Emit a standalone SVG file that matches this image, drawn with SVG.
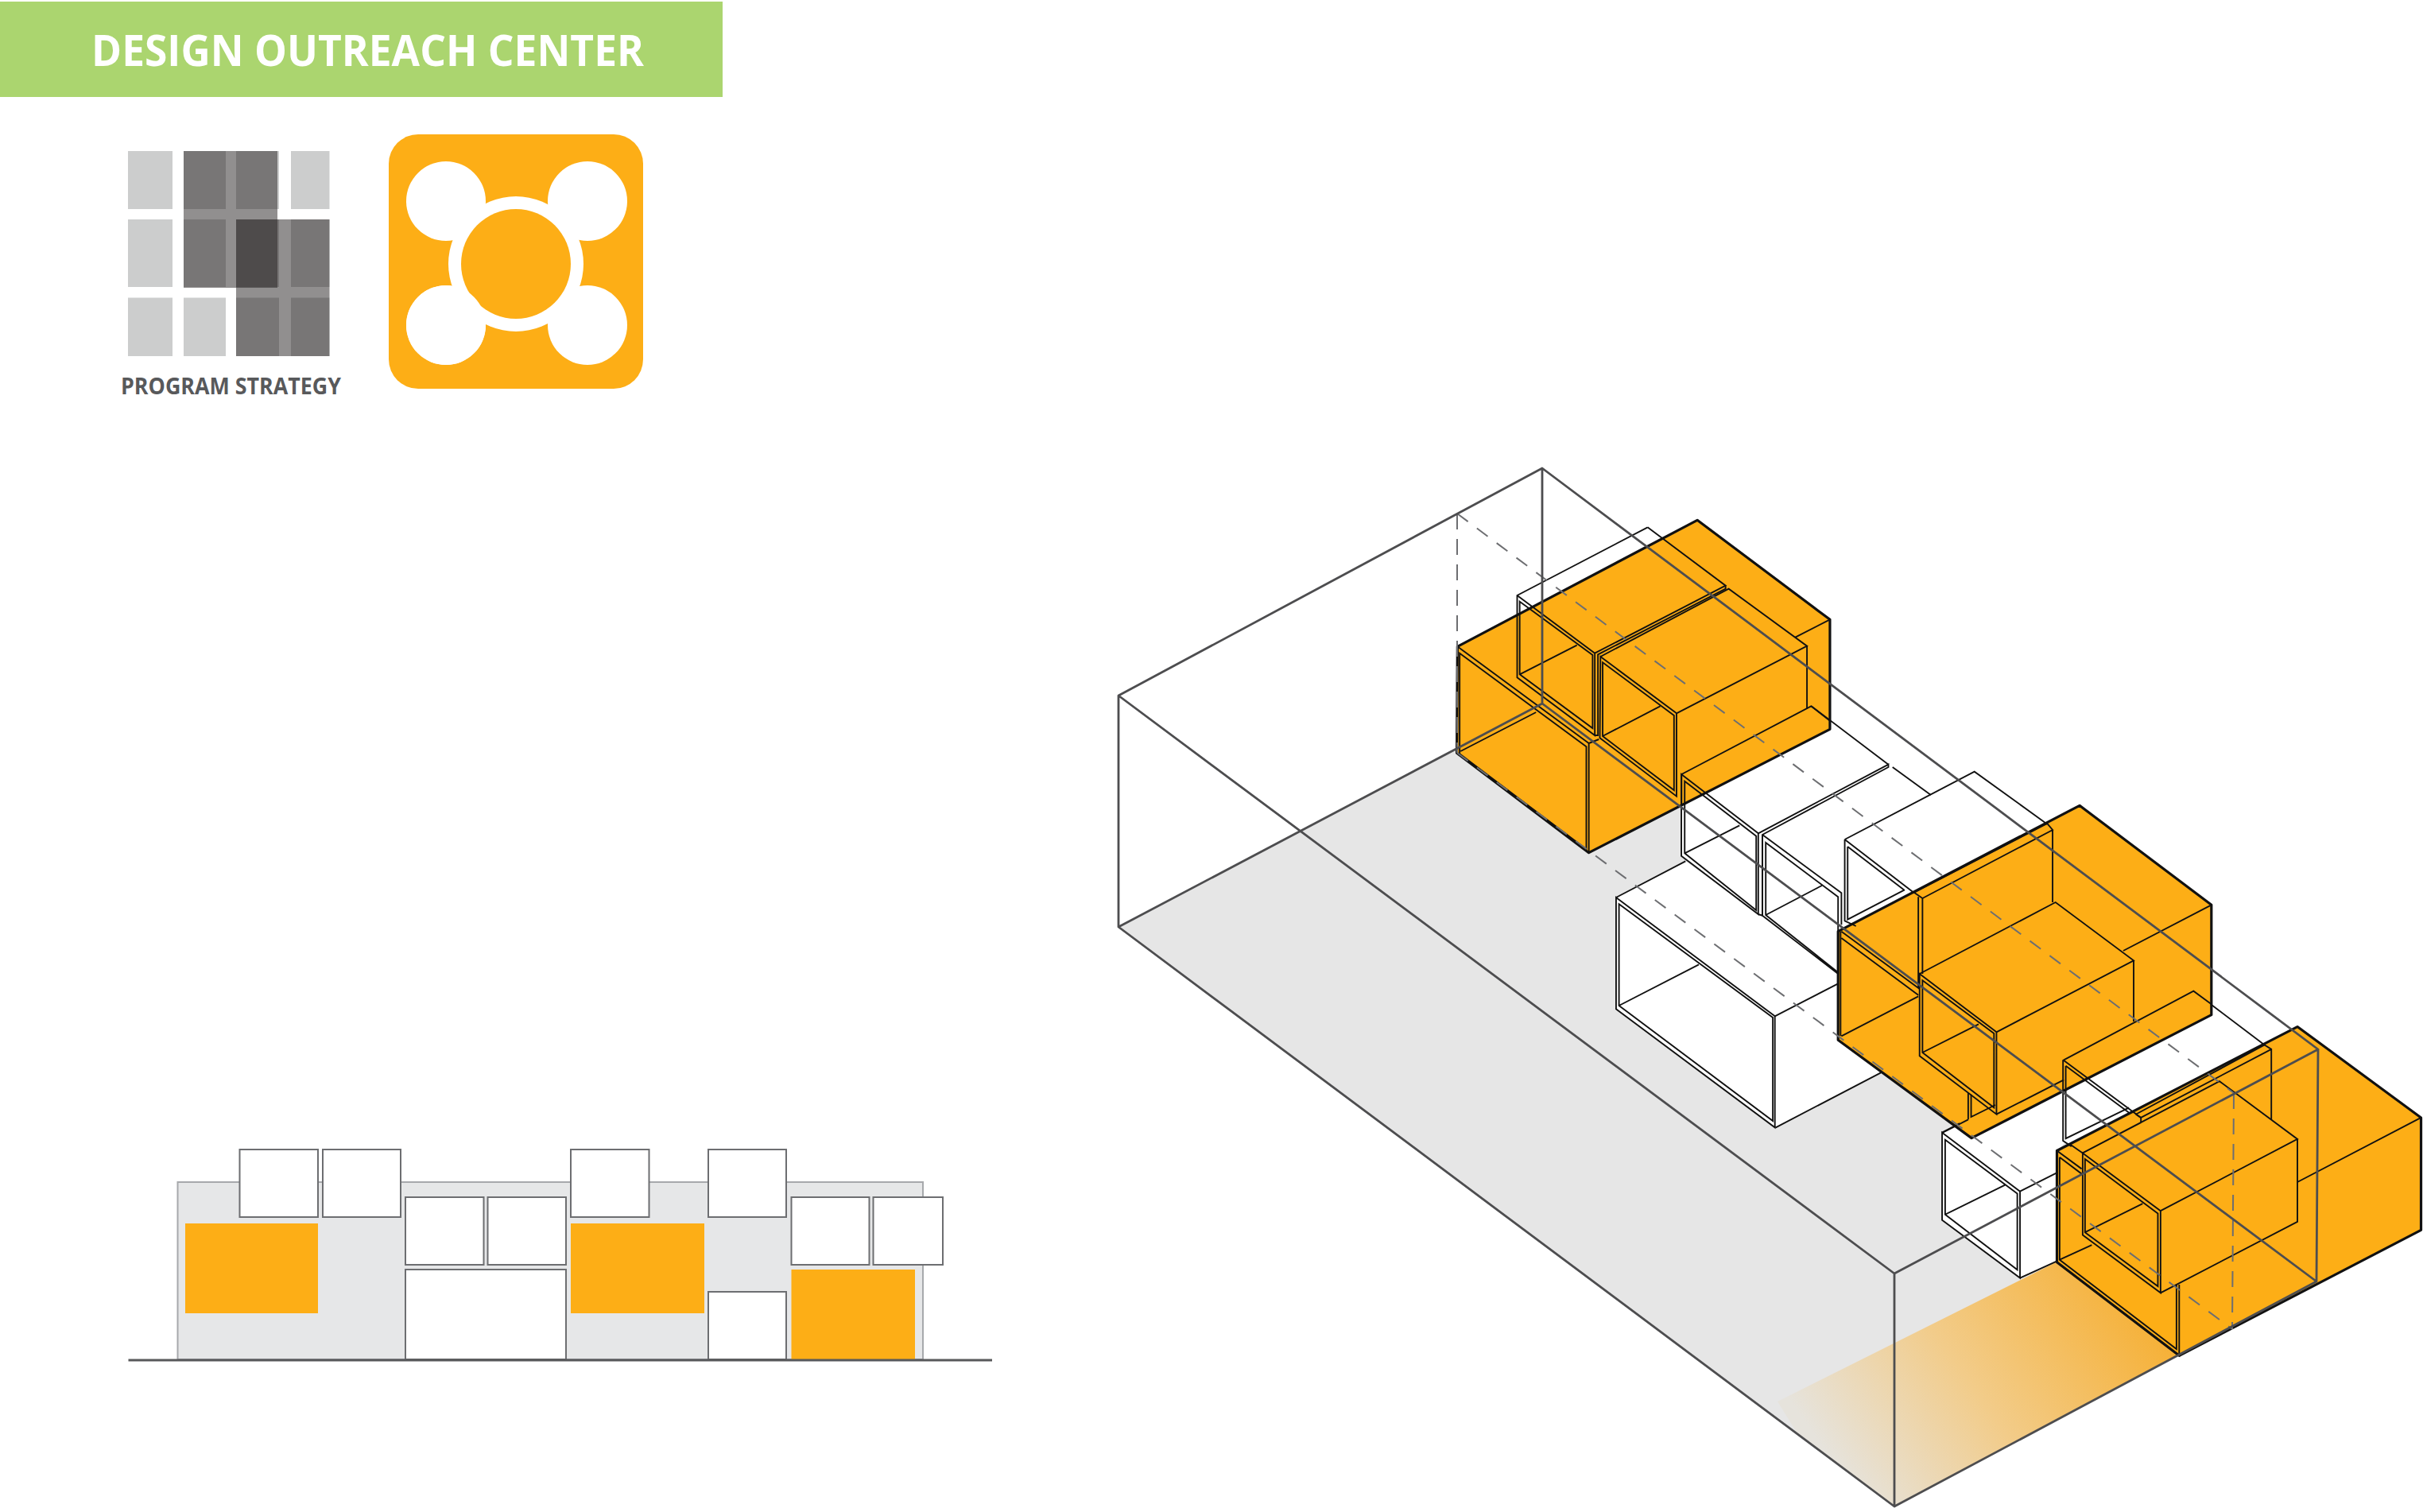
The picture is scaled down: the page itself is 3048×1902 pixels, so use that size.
<svg xmlns="http://www.w3.org/2000/svg" width="3048" height="1902" viewBox="0 0 3048 1902">
<style>
text{font-family:"Open Sans","Liberation Sans",sans-serif;font-weight:700}
.lt{fill:#cccdcd}
.ov{fill:#231f20;fill-opacity:.5}
.or{fill:#fdae16}
.w{fill:#fff}
.el{fill:#fff;stroke:#6d6e71;stroke-width:2}
.s,.l,.t{vector-effect:non-scaling-stroke}
.s{fill:#fdae16;stroke:#111;stroke-width:3.2;stroke-linejoin:round}
.wf{fill:#fff;stroke:none}
.l{fill:none;stroke:#111;stroke-width:1.9;stroke-linejoin:miter}
.f{fill:none;stroke:#4d4d4f;stroke-width:2.8;stroke-linejoin:round}
.d{fill:none;stroke:#6d6e71;stroke-width:2}
</style>
<defs>
<linearGradient id="fade" gradientUnits="userSpaceOnUse" x1="2680" y1="1610" x2="2320" y2="1860">
<stop offset="0" stop-color="#f6b035"/><stop offset=".55" stop-color="#f2cc8a"/><stop offset="1" stop-color="#e6e3dc"/>
</linearGradient>
</defs>

<g id="title"><rect x="0" y="2" width="909" height="120" fill="#abd56f"/>
<text x="115" y="83" font-size="53" fill="#fff" textLength="695" lengthAdjust="spacingAndGlyphs">DESIGN OUTREACH CENTER</text></g>

<g id="program-strategy">
<rect class="lt" x="161" y="190" width="56" height="73"/><rect class="lt" x="231" y="190" width="53" height="73"/><rect class="lt" x="297" y="190" width="54" height="73"/><rect class="lt" x="366" y="190" width="48.500" height="73"/>
<rect class="lt" x="161" y="276" width="56" height="85"/><rect class="lt" x="231" y="276" width="53" height="85"/><rect class="lt" x="297" y="276" width="54" height="85"/><rect class="lt" x="366" y="276" width="48.500" height="85"/>
<rect class="lt" x="161" y="374.500" width="56" height="73.500"/><rect class="lt" x="231" y="374.500" width="53" height="73.500"/><rect class="lt" x="297" y="374.500" width="54" height="73.500"/><rect class="lt" x="366" y="374.500" width="48.500" height="73.500"/>
<rect class="ov" x="231" y="190" width="118" height="172"/>
<rect class="ov" x="297" y="276" width="117.500" height="172"/>
<text x="152" y="496" font-size="28" fill="#58595b" textLength="277" lengthAdjust="spacingAndGlyphs">PROGRAM STRATEGY</text>
</g>

<g id="icon">
<rect class="or" x="489" y="169" width="320" height="320" rx="37"/>
<circle class="w" cx="561" cy="253" r="50"/><circle class="w" cx="739" cy="253" r="50"/><circle class="w" cx="739" cy="409" r="50"/><circle class="w" cx="561" cy="409" r="50"/>
<circle class="w" cx="649" cy="332" r="85"/>
<circle class="or" cx="649" cy="332" r="69"/>
<circle class="w" cx="561" cy="409" r="50"/>
</g>

<g id="elevation">
<rect x="223.500" y="1487" width="937.500" height="223" fill="#e6e7e8" stroke="#a7a9ac" stroke-width="2"/>
<rect class="or" x="233" y="1539" width="167" height="113"/>
<rect class="or" x="718" y="1539" width="168" height="113"/>
<rect class="or" x="995.500" y="1597" width="155.500" height="113"/>
<rect class="el" x="301.500" y="1446" width="98.500" height="85"/>
<rect class="el" x="406" y="1446" width="98" height="85"/>
<rect class="el" x="510" y="1506" width="98.500" height="85"/>
<rect class="el" x="613.500" y="1506" width="98.500" height="85"/>
<rect class="el" x="510" y="1597" width="202" height="113"/>
<rect class="el" x="718" y="1446" width="98.500" height="85"/>
<rect class="el" x="891" y="1446" width="98" height="85"/>
<rect class="el" x="995.500" y="1506" width="98" height="85"/>
<rect class="el" x="1098.500" y="1506" width="87.500" height="85"/>
<rect class="el" x="891" y="1625" width="98" height="85"/>
<line x1="161.500" y1="1711" x2="1248" y2="1711" stroke="#58595b" stroke-width="3"/>
</g>

<g id="floor">
<polygon points="1407,1166 1940,885 2914,1612 2383,1895" fill="#e6e6e6"/>
<polygon points="2236,1763 2590,1586 2741,1705 2383,1895 2262,1805" fill="url(#fade)"/>
</g>

<g id="white-tube-fills">
<g transform="translate(2000 950) scale(.52296 .33333)">
<polygon class="wf" points="63,537 230,400 600,815 700,1200 447,1405 63,958"/>
<polygon class="wf" points="220,72 532,-186 718,35 728,45 820,150 925,62 1100,260 780,520 600,650 600,820 597,825 415,605 405,600 220,380"/>
</g>
<g transform="translate(2380 1250) scale(.42607 .41582)">
<polygon class="wf" points="505,200 880,-10 1100,155 720,360 530,462 505,445"/>
<polygon class="wf" points="148,420 232,378 510,270 510,450 490,475 490,808 378,860 148,685"/>
</g>
</g>

<g id="orange-volumes">
<g transform="translate(1780 620) scale(.39541 .33333)"><polygon class="s" points="135,580 898,103 1320,478 1320,892 553,1358 133,982"/></g>
<g transform="translate(2000 950) scale(.52296 .33333)"><polygon class="s" points="597,665 1178,190 1495,565 1495,980 918,1445 597,1075"/></g>
<g transform="translate(2380 1250) scale(.42607 .41582)"><polygon class="s" points="487,475 1197,100 1562,375 1562,715 848,1095 487,812"/></g>
</g>

<g id="tube-lines-group-1" transform="translate(1780 620) scale(.39541 .33333)">
<path class="l" d="M135,580 553,945V1358M142,605 545,958V1345L142,985ZM145,975 385,828M553,945 585,930M1210,545 1320,478"/>
<path class="l" d="M740,130 325,387V697L572,915V605L325,387M333,410 565,612V888L333,685ZM333,685 515,575M572,605 988,350 740,130M988,350V362L582,610V915H572"/>
<path class="l" d="M590,618 832,832V1145L588,925ZM590,618 998,362 1247,578 832,832M1247,578V815M597,640 824,840V1122L597,918ZM597,918 780,805"/>
<path class="l" d="M848,1062 1260,805 1320,860M848,1062V1180"/>
</g>

<g id="tube-lines-group-2" transform="translate(2000 950) scale(.52296 .33333)">
<path class="l" d="M63,537 445,985V1405L63,958ZM70,562 440,990V1380L70,945ZM70,945 262,790M445,985 597,862M447,1405 700,1198M63,537 230,400"/>
<path class="l" d="M220,72 405,295V600L220,380ZM228,98 400,305V585L228,370ZM228,370 360,265M405,295 718,35V45L415,300V605L405,600M718,35 532,-186"/>
<path class="l" d="M415,300 605,520V640M423,330 597,535V820L423,603ZM415,300V605L597,825M423,603 558,492M728,45 820,150"/>
<path class="l" d="M613,318 925,62 1100,260M613,318 780,520M620,345 757,510M620,345V620L757,508M613,318V625L640,645"/>
<path class="l" d="M603,665V1060M605,665 793,882M605,690 790,905M605,1060 790,910M780,518 800,540V825M790,535V880"/>
<path class="l" d="M780,518 1100,258 1113,282 800,540M1113,282V555"/>
<path class="l" d="M793,825 978,1045V1355L793,1135ZM800,850 972,1050V1330L800,1122ZM800,1122 935,1015M793,825 1120,555 1308,775 978,1045M1308,775V1005M1283,738 1495,565M978,1355 1140,1225"/>
<path class="l" d="M910,1275V1375M917,1280V1365L975,1320M848,1425 910,1375"/>
<path class="l" d="M1140,1150 1452,890 1495,940"/>
</g>

<g id="tube-lines-group-3" transform="translate(2380 1250) scale(.42607 .41582)">
<path class="l" d="M505,200 735,375V390M513,218 700,360M505,200V445L530,462M513,218V438L700,345M945,35 1100,155M505,200 505,300"/>
<path class="l" d="M148,420 378,598V860L148,685ZM157,442 370,605V835L157,668ZM157,668 335,578M378,598 490,540M378,860 490,808M148,420 200,392"/>
<path class="l" d="M495,495 560,545M495,495V805L840,1075V880M848,880V1095L487,812M590,760 495,805M487,475 560,530"/>
<path class="l" d="M1100,155 1120,168V380M735,375 1120,168M720,365 1100,155M720,365 735,375"/>
<path class="l" d="M563,482 793,657V905L563,730ZM570,500 785,665V885L570,722ZM570,722 740,635M563,482 967,265 1197,440 793,657M1197,440V690L793,905M563,482 735,390M525,455 563,482M1197,570 1562,375"/>
</g>

<g id="section-plane">
<path class="d" stroke-dasharray="17 14" d="M1833,646 2810,1375M1833,947 2808,1672"/>
<path class="d" stroke-dasharray="20 12" d="M1833,646V947M2810,1375 2808,1672"/>
</g>

<g id="site-frame">
<path class="f" d="M1407,875 1940,589 2916,1320 2383,1602ZM1407,1166 1940,885 2914,1612 2383,1895ZM1407,875V1166M1940,589V885M2916,1320 2914,1612M2383,1602V1895"/>
</g>
</svg>
